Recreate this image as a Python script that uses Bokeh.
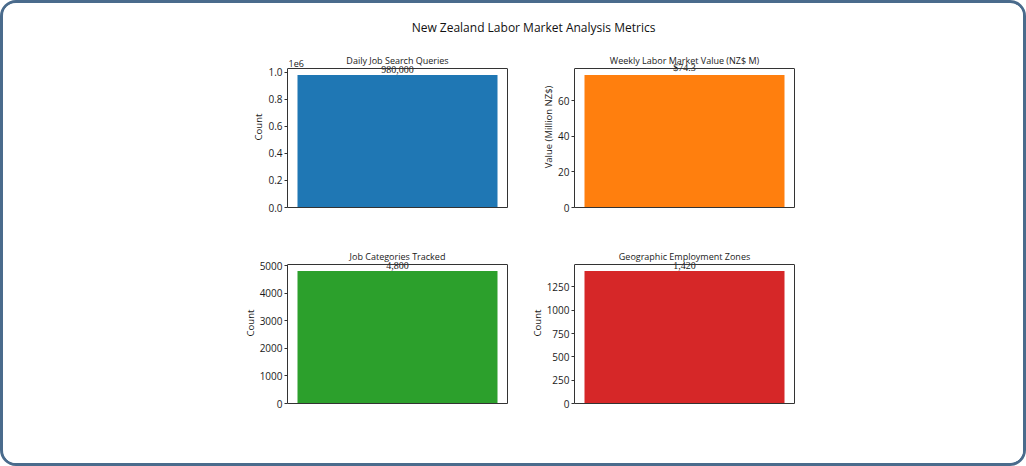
from bokeh.plotting import figure
from bokeh.models import (ColumnDataSource, LabelSet, Label, Range1d, Span,
                          FixedTicker, LinearAxis, CustomJSTickFormatter)
from bokeh.layouts import column, row
from bokeh.embed import file_html
from bokeh.resources import INLINE

# ---------------- data ----------------
main_title = "New Zealand Labor Market Analysis Metrics"
metric_titles = ["Daily Job Search Queries", "Weekly Labor Market Value (NZ$ M)",
                 "Job Categories Tracked", "Geographic Employment Zones"]
metric_values = [980000, 74.3, 4800, 1420]
value_labels = ["980,000", "$74.3", "4,800", "1,420"]
y_axis_labels = ["Count", "Value (Million NZ$)", "Count", "Count"]
bar_colors = ["#1f77b4", "#ff7f0e", "#2ca02c", "#d62728"]
tick_steps = [200000, 20, 1000, 250]

FONT = "Open Sans"
TXT = "#1a1a1a"
SPINE = "#333333"
FRAME_H = 139   # visible axes height
EXTRA = 22      # room above the axes box for title / value labels


def make_panel(i, ml, mt, mr, mb):
    v = metric_values[i]
    ymax = v * 1.05
    y_end = ymax * (FRAME_H + EXTRA) / FRAME_H
    p = figure(frame_width=220, frame_height=FRAME_H + EXTRA,
               min_border_left=ml, min_border_top=mt,
               min_border_right=mr, min_border_bottom=mb,
               x_range=Range1d(-0.44, 0.44), y_range=Range1d(0, y_end),
               output_backend="svg", toolbar_location=None)
    p.background_fill_color = "white"
    p.border_fill_color = "white"
    p.outline_line_color = None
    p.grid.visible = False

    src = ColumnDataSource(dict(x=[0], top=[v], text=[value_labels[i]]))
    p.vbar(x="x", top="top", width=0.8, source=src, color=bar_colors[i], line_color=None)
    p.add_layout(LabelSet(x="x", y="top", text="text", source=src,
                          text_align="center", text_baseline="bottom", y_offset=2,
                          text_font=FONT, text_font_size="10px", text_color=TXT))

    # subplot title
    p.add_layout(Label(x=0, y=ymax, text=metric_titles[i], text_align="center",
                       text_baseline="middle", y_offset=8,
                       text_font=FONT, text_font_size="9px", text_color=TXT))

    # spines
    p.add_layout(Span(location=ymax, dimension="width", line_color=SPINE, line_width=1))
    xa = p.xaxis[0]
    xa.ticker = FixedTicker(ticks=[])
    xa.axis_line_color = SPINE
    xa.major_label_text_color = None
    rax = LinearAxis(ticker=FixedTicker(ticks=[]), bounds=(0, ymax),
                     axis_line_color=SPINE, major_label_text_color=None)
    p.add_layout(rax, "right")

    ax = p.yaxis[0]
    ax.bounds = (0, ymax)
    ax.ticker = FixedTicker(ticks=[k * tick_steps[i] for k in range(int(ymax // tick_steps[i]) + 1)])
    ax.axis_line_color = SPINE
    ax.major_tick_line_color = SPINE
    ax.major_tick_out = 3
    ax.major_tick_in = 0
    ax.minor_tick_line_color = None
    ax.major_label_text_font = FONT
    ax.major_label_text_font_size = "10px"
    ax.major_label_text_color = TXT
    ax.major_label_standoff = 2
    ax.axis_label = y_axis_labels[i]
    ax.axis_label_text_font = FONT
    ax.axis_label_text_font_size = "9.5px"
    ax.axis_label_text_font_style = "normal"
    ax.axis_label_text_color = TXT
    ax.axis_label_standoff = 0
    if i == 0:
        ax.formatter = CustomJSTickFormatter(code="return (tick/1e6).toFixed(1);")
        p.add_layout(Label(x=-0.44, y=ymax, text="1e6", text_align="left",
                           text_baseline="bottom", x_offset=1, y_offset=2,
                           text_font=FONT, text_font_size="9px", text_color=TXT))
    return p


# header with the main title
header = figure(width=1020, height=37, x_range=Range1d(0, 1020), y_range=Range1d(0, 37),
                min_border=0, output_backend="svg", toolbar_location=None)
header.axis.visible = False
header.grid.visible = False
header.outline_line_color = None
header.background_fill_color = "white"
header.border_fill_color = "white"
header.add_layout(Label(x=530, y=13, text=main_title, text_align="center",
                        text_baseline="middle", text_font=FONT,
                        text_font_size="12px", text_color="#111111"))

tl = make_panel(0, 284, 28 - EXTRA, 16, 27)
tr = make_panel(1, 51, 28 - EXTRA, 229, 27)
bl = make_panel(2, 284, 30 - EXTRA, 16, 60)
br = make_panel(3, 51, 30 - EXTRA, 229, 60)

layout = column(header, row(tl, tr), row(bl, br),
                styles={"position": "absolute", "left": "0px", "top": "0px",
                        "border": "3px solid #4a6b8c", "border-radius": "16px",
                        "background-color": "white", "overflow": "hidden",
                        "box-sizing": "content-box"})

open("out.html", "w").write(file_html(layout, INLINE))
